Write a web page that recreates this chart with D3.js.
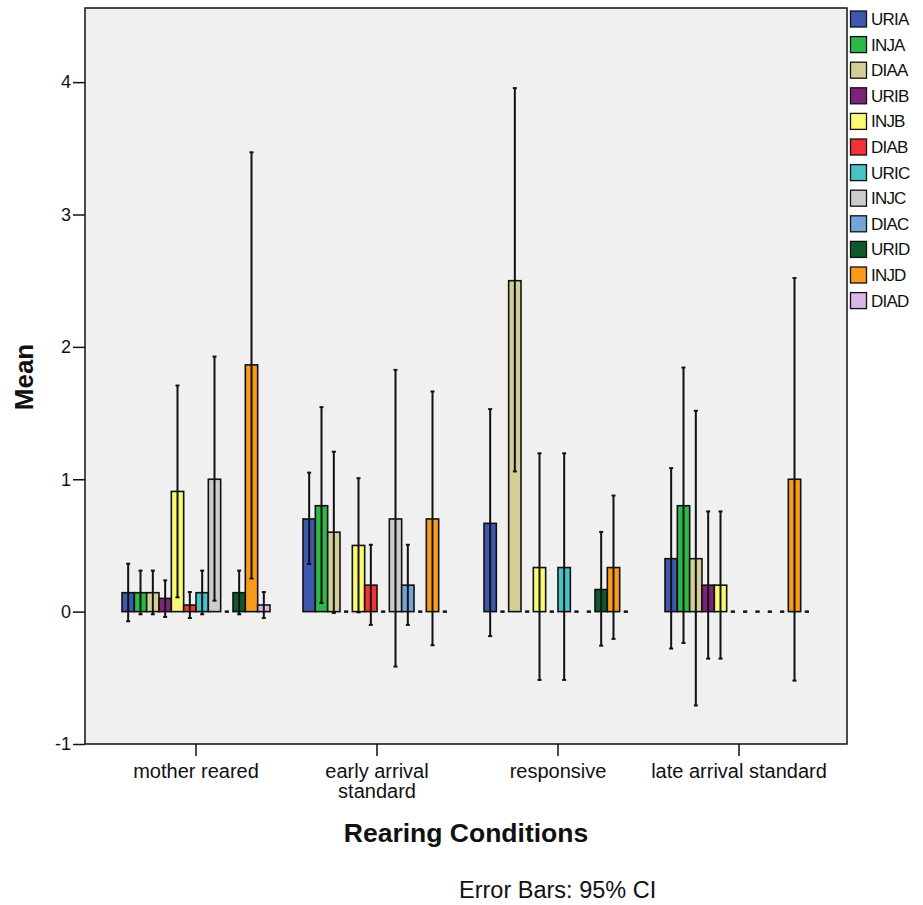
<!DOCTYPE html>
<html><head><meta charset="utf-8">
<script src="https://cdn.jsdelivr.net/npm/d3@7/dist/d3.min.js"></script>
<style>body{margin:0;background:#fff;} text{font-family:"Liberation Sans",Arial,sans-serif;}</style>
</head><body><svg id="c" width="923" height="905"></svg>
<script>
const categories = ["mother reared", "early arrival standard", "responsive", "late arrival standard"];
const categoryLines = [["mother reared"], ["early arrival", "standard"], ["responsive"], ["late arrival standard"]];
const seriesNames = ["URIA","INJA","DIAA","URIB","INJB","DIAB","URIC","INJC","DIAC","URID","INJD","DIAD"];
const seriesColors = ["#3e58ac","#2eb848","#d3ce97","#7b2479","#fbf873","#ef3338","#48c2c5","#cccccc","#72a6d6","#0e5a2a","#fa9b1c","#d7b6e8"];
const URIA = [0.143, 0.7, 0.667, 0.4],  URIA_lo = [-0.073, 0.36, -0.185, -0.279], URIA_hi = [0.362, 1.05, 1.53, 1.084];
const INJA = [0.143, 0.8, 0, 0.8],      INJA_lo = [-0.02, 0.065, 0, -0.237],      INJA_hi = [0.31, 1.545, 0, 1.844];
const DIAA = [0.143, 0.6, 2.5, 0.4],    DIAA_lo = [-0.02, -0.01, 1.059, -0.709],  DIAA_hi = [0.31, 1.208, 3.955, 1.517];
const URIB = [0.1, 0, 0, 0.2],          URIB_lo = [-0.04, 0, 0, -0.355],          URIB_hi = [0.236, 0, 0, 0.757];
const INJB = [0.908, 0.5, 0.333, 0.2],  INJB_lo = [0.108, -0.005, -0.516, -0.355], INJB_hi = [1.708, 1.008, 1.196, 0.757];
const DIAB = [0.05, 0.2, 0, 0],         DIAB_lo = [-0.048, -0.1, 0, 0],           DIAB_hi = [0.148, 0.505, 0, 0];
const URIC = [0.143, 0, 0.333, 0],      URIC_lo = [-0.02, 0, -0.516, 0],          URIC_hi = [0.31, 0, 1.196, 0];
const INJC = [1.0, 0.7, 0, 0],          INJC_lo = [0.083, -0.415, 0, 0],          INJC_hi = [1.927, 1.826, 0, 0];
const DIAC = [0, 0.2, 0, 0],            DIAC_lo = [0, -0.1, 0, 0],                DIAC_hi = [0, 0.505, 0, 0];
const URID = [0.143, 0, 0.167, 0],      URID_lo = [-0.02, 0, -0.257, 0],          URID_hi = [0.31, 0, 0.602, 0];
const INJD = [1.864, 0.7, 0.333, 1.0],  INJD_lo = [0.25, -0.254, -0.206, -0.521], INJD_hi = [3.47, 1.663, 0.877, 2.52];
const DIAD = [0.05, 0, 0, 0],           DIAD_lo = [-0.048, 0, 0, 0],              DIAD_hi = [0.148, 0, 0, 0];
const yTicks = [-1, 0, 1, 2, 3, 4];

const means = [URIA,INJA,DIAA,URIB,INJB,DIAB,URIC,INJC,DIAC,URID,INJD,DIAD];
const lows = [URIA_lo,INJA_lo,DIAA_lo,URIB_lo,INJB_lo,DIAB_lo,URIC_lo,INJC_lo,DIAC_lo,URID_lo,INJD_lo,DIAD_lo];
const highs = [URIA_hi,INJA_hi,DIAA_hi,URIB_hi,INJB_hi,DIAB_hi,URIC_hi,INJC_hi,DIAC_hi,URID_hi,INJD_hi,DIAD_hi];

const svg = d3.select("#c");
const P = {l:85, t:8, r:847, b:744};
const y = d3.scaleLinear().domain([-1, 4.56]).range([P.b, P.t]);
const x0 = d3.scaleBand().domain(categories).range([105.5, 829.5]);
const x1 = d3.scaleBand().domain(seriesNames).range([16.5, x0.bandwidth() - 16.5]);

svg.append("rect").attr("x", P.l).attr("y", P.t).attr("width", P.r - P.l).attr("height", P.b - P.t)
  .attr("fill", "#f0f0f0");

const data = [];
categories.forEach((c, ci) => seriesNames.forEach((s, si) => {
  data.push({c, s, si, v: means[si][ci], lo: lows[si][ci], hi: highs[si][ci]});
}));

const g = svg.append("g");
g.selectAll("rect.bar").data(data).enter().append("rect").attr("class","bar")
  .attr("x", d => x0(d.c) + x1(d.s))
  .attr("y", d => y(Math.max(0, d.v)))
  .attr("width", x1.bandwidth())
  .attr("height", d => Math.abs(y(d.v) - y(0)))
  .attr("fill", d => seriesColors[d.si])
  .attr("stroke", "#111").attr("stroke-width", 1.6);

const eb = svg.append("g").attr("stroke", "#111");
data.forEach(d => {
  const cx = x0(d.c) + x1(d.s) + x1.bandwidth() / 2;
  eb.append("line").attr("x1", cx).attr("x2", cx).attr("y1", y(d.lo)).attr("y2", y(d.hi)).attr("stroke-width", 2);
  [d.lo, d.hi].forEach(v => eb.append("line").attr("x1", cx - 2).attr("x2", cx + 2).attr("y1", y(v)).attr("y2", y(v)).attr("stroke-width", 2));
});

svg.append("rect").attr("x", P.l).attr("y", P.t).attr("width", P.r - P.l).attr("height", P.b - P.t)
  .attr("fill", "none").attr("stroke", "#111").attr("stroke-width", 1.5);

// y axis
const ya = svg.append("g").attr("transform", `translate(${P.l},0)`)
  .call(d3.axisLeft(y).tickValues(yTicks).tickSize(12).tickPadding(2).tickFormat(d => String(d)));
ya.select(".domain").remove();
ya.selectAll("line").attr("stroke", "#111").attr("stroke-width", 1.5);
ya.selectAll("text").attr("font-size", 18).attr("fill", "#111").attr("font-family", "Liberation Sans, Arial, sans-serif");

// x axis
const xa = svg.append("g").attr("transform", `translate(0,${P.b})`)
  .call(d3.axisBottom(x0).tickSize(12).tickFormat(""));
xa.select(".domain").remove();
xa.selectAll("line").attr("stroke", "#111").attr("stroke-width", 1.5);
categories.forEach((c, ci) => {
  const t = svg.append("text").attr("x", x0(c) + x0.bandwidth() / 2).attr("y", 778)
    .attr("text-anchor", "middle").attr("font-size", 20).attr("fill", "#111");
  categoryLines[ci].forEach((ln, li) => t.append("tspan").attr("x", x0(c) + x0.bandwidth() / 2).attr("dy", li ? 20 : 0).text(ln));
});

svg.append("text").attr("transform", "translate(33,377) rotate(-90)").attr("text-anchor", "middle")
  .attr("font-size", 26).attr("font-weight", "bold").attr("fill", "#111").text("Mean");
svg.append("text").attr("x", 466).attr("y", 842).attr("text-anchor", "middle")
  .attr("font-size", 26.5).attr("font-weight", "bold").attr("fill", "#111").text("Rearing Conditions");
svg.append("text").attr("x", 459).attr("y", 898)
  .attr("font-size", 23.5).attr("fill", "#111").text("Error Bars: 95% CI");

// legend
const lg = svg.append("g");
seriesNames.forEach((s, i) => {
  const yy = 11 + i * 25.6;
  lg.append("rect").attr("x", 850.5).attr("y", yy).attr("width", 16).attr("height", 16)
    .attr("fill", seriesColors[i]).attr("stroke", "#111").attr("stroke-width", 1.3);
  lg.append("text").attr("x", 871).attr("y", yy + 14).attr("font-size", 17).attr("letter-spacing", -0.8)
    .attr("fill", "#111").text(s);
});
</script></body></html>
